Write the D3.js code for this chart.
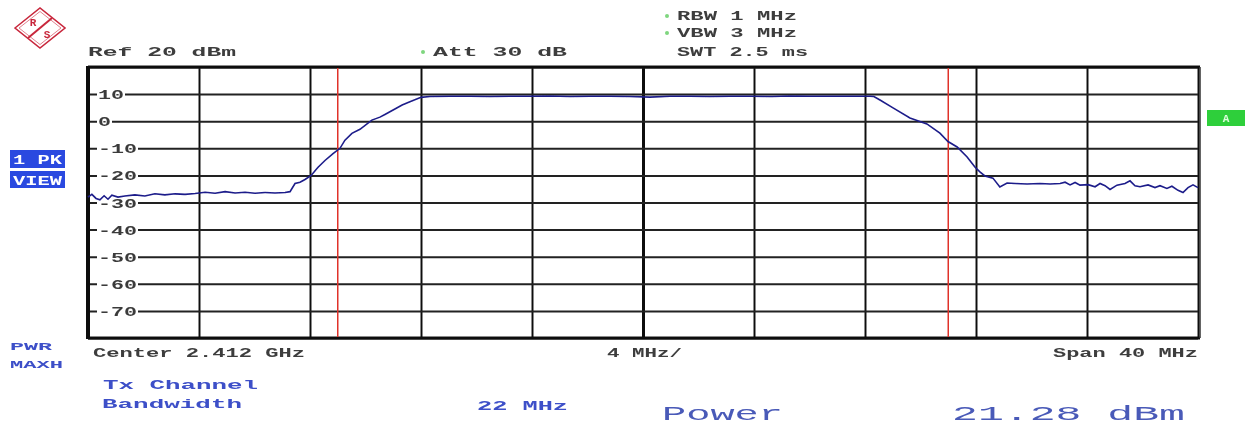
<!DOCTYPE html>
<html><head><meta charset="utf-8">
<script src="https://cdn.jsdelivr.net/npm/d3@7"></script>
<style>
html,body{margin:0;padding:0;background:#fff;}
svg{display:block;}
text{font-family:"Liberation Mono","DejaVu Sans Mono",monospace;font-weight:bold;}
</style></head>
<body>
<script>
// ---- data ----
const freqMHz = [-20.00,-19.86,-19.71,-19.57,-19.42,-19.28,-19.14,-18.92,-18.67,-18.31,-17.95,-17.59,-17.23,-16.86,-16.50,-16.14,-15.78,-15.42,-15.06,-14.70,-14.34,-13.98,-13.62,-13.26,-12.90,-12.72,-12.54,-12.36,-12.18,-11.96,-11.71,-11.46,-11.17,-10.92,-10.74,-10.49,-10.20,-9.77,-9.48,-9.30,-8.94,-8.68,-8.40,-8.00,
  -7.68,-6.95,-6.23,-5.51,-4.79,-4.07,-3.35,-2.63,-1.91,-1.19,-0.47,0.25,0.97,1.69,2.41,3.14,3.86,4.58,5.30,6.02,6.74,7.46,8.18,
  8.32,8.54,9.01,9.62,10.23,10.70,10.99,11.32,11.68,11.96,12.14,12.32,12.61,12.86,13.12,13.41,13.84,14.31,14.67,15.03,15.21,15.39,15.57,15.75,16.04,16.29,16.47,16.65,16.83,17.08,17.37,17.55,17.73,17.91,18.20,18.45,18.63,18.88,19.06,19.28,19.46,19.64,19.82,20.00];
const levelDb = [-28.0,-27.0,-28.5,-29.0,-27.5,-28.8,-27.3,-28.0,-27.6,-27.2,-27.6,-26.8,-27.2,-26.8,-27.0,-26.7,-26.2,-26.6,-26.0,-26.5,-26.2,-26.6,-26.3,-26.5,-26.3,-26.0,-23.0,-22.5,-21.5,-20.0,-17.0,-14.5,-12.0,-10.0,-7.0,-4.5,-3.0,0.4,1.5,2.5,4.5,6.0,7.2,8.8,
  9.1,9.2,9.2,9.1,9.2,9.2,9.3,9.1,9.2,9.2,9.1,8.9,9.2,9.2,9.1,9.2,9.2,9.1,9.3,9.2,9.2,9.2,9.2,
  9.1,7.8,4.9,1.2,-1.0,-4.4,-7.5,-9.5,-13.2,-16.9,-18.7,-20.2,-21.0,-24.3,-22.8,-23.0,-23.2,-23.0,-23.2,-23.0,-22.5,-23.5,-22.6,-23.6,-23.4,-24.2,-23.0,-23.8,-25.2,-23.6,-23.0,-22.0,-23.8,-24.2,-23.5,-24.5,-23.8,-24.8,-24.0,-25.5,-26.3,-24.5,-23.5,-24.5];
const freqTicks = [-20,-16,-12,-8,-4,0,4,8,12,16,20];
const dbTicks = [10,0,-10,-20,-30,-40,-50,-60,-70];
const dbTickLabels = ["10","0","-10","-20","-30","-40","-50","-60","-70"];
const channelBwMHz = 22;
const refLevel = 20, bottomLevel = -80, spanMHz = 40;

const W = 1247, H = 428;
const svg = d3.select("body").append("svg").attr("width", W).attr("height", H);
const defs = svg.append("defs");
defs.append("filter").attr("id","soft").append("feGaussianBlur").attr("stdDeviation",0.45);

const x = d3.scaleLinear().domain([-spanMHz/2, spanMHz/2]).range([88, 1198]);
const y = d3.scaleLinear().domain([bottomLevel, refLevel]).range([338, 67]);

const g = svg.append("g").attr("filter","url(#soft)");

// grid via axes
const vGrid = g.append("g").attr("transform", `translate(0,${y(bottomLevel)})`)
  .call(d3.axisBottom(x).tickValues(freqTicks).tickSize(-(y(bottomLevel)-y(refLevel))).tickFormat(""));
vGrid.select(".domain").remove();
vGrid.selectAll(".tick line").attr("stroke","#111").attr("stroke-width", d => d===0 ? 3 : 2);

const hGrid = g.append("g").attr("transform", `translate(${x(-spanMHz/2)},0)`)
  .call(d3.axisRight(y).tickValues(dbTicks.concat([refLevel, bottomLevel])).tickSize(x(spanMHz/2)-x(-spanMHz/2)).tickFormat(""));
hGrid.select(".domain").remove();
hGrid.selectAll(".tick line").attr("stroke","#222").attr("stroke-width", 2);

// frame
g.append("line").attr("x1",x(-20)).attr("x2",x(-20)).attr("y1",y(20)-1).attr("y2",y(-80)+1).attr("stroke","#111").attr("stroke-width",4);
g.append("line").attr("x1",x(-20)).attr("x2",x(20)+2).attr("y1",y(-80)).attr("y2",y(-80)).attr("stroke","#111").attr("stroke-width",3);
g.append("line").attr("x1",x(-20)).attr("x2",x(20)+2).attr("y1",y(20)).attr("y2",y(20)).attr("stroke","#111").attr("stroke-width",3);
g.append("line").attr("x1",x(20)+2).attr("x2",x(20)+2).attr("y1",y(20)).attr("y2",y(-80)).attr("stroke","#333").attr("stroke-width",1.5);

// y tick labels with white backing
const lab = g.append("g");
dbTicks.forEach((v,i) => {
  const t = dbTickLabels[i];
  const w = t.length*13;
  lab.append("rect").attr("x",97).attr("y",y(v)-6).attr("width",w+2).attr("height",12).attr("fill","#fff");
  lab.append("text").attr("x",98).attr("y",y(v)+5).attr("font-size",13).attr("fill","#3a3a3a")
    .attr("textLength",w).attr("lengthAdjust","spacingAndGlyphs").text(t);
});

// channel markers
[-channelBwMHz/2, channelBwMHz/2].forEach(f => {
  g.append("line").attr("x1",x(f)).attr("x2",x(f)).attr("y1",y(20)+1).attr("y2",y(-80)-1)
   .attr("stroke","#e0302a").attr("stroke-width",1.5);
});

// trace
const pts = freqMHz.map((f,i)=>[f, levelDb[i]]);
g.append("path").datum(pts)
  .attr("d", d3.line().x(d=>x(d[0])).y(d=>y(d[1])))
  .attr("fill","none").attr("stroke","#1c1c8a").attr("stroke-width",1.6);

// text helper
function txt(s, x0, yb, w, size, color, opts={}) {
  const t = g.append("text").attr("x",x0).attr("y",yb).attr("font-size",size).attr("fill",color).text(s);
  if (w) t.attr("textLength",w).attr("lengthAdjust","spacingAndGlyphs");
  if (opts.anchor) t.attr("text-anchor",opts.anchor);
  if (opts.weight) t.style("font-weight",opts.weight);
  return t;
}
const dark = "#3e3e3e";
txt("Ref  20 dBm", 88, 56, 148, 13, dark);
txt("Att  30 dB", 433, 56, 134, 13, dark);
txt("RBW 1 MHz", 677, 20, 120, 13, dark);
txt("VBW 3 MHz", 677, 37, 120, 13, dark);
txt("SWT 2.5 ms", 677, 56, 131, 13, dark);
// green dots
[[423,52],[667,16],[667,33]].forEach(p => g.append("circle").attr("cx",p[0]).attr("cy",p[1]).attr("r",2).attr("fill","#7fd67f"));

txt("Center 2.412 GHz", 93, 357, 212, 13, dark);
txt("4 MHz/", 607, 357, 75, 13, dark);
txt("Span 40 MHz", 1053, 357, 145, 13, dark);

const blue = "#3c4fc8";
txt("PWR", 10, 350, 42, 11, blue);
txt("MAXH", 10, 368, 53, 11, blue);
txt("Tx Channel", 103, 389, 155, 13, blue);
txt("Bandwidth", 102, 408, 140, 13, blue);
txt("22 MHz", 477, 410, 91, 13, blue);
txt("Power", 662, 420, 121, 21, "#4a5ab8", {weight:"normal"});
txt("21.28 dBm", 952, 420, 233, 21, "#4a5ab8", {weight:"normal"});

// 1 PK / VIEW boxes
g.append("rect").attr("x",10).attr("y",150).attr("width",55).attr("height",18).attr("fill","#2a48e0");
g.append("rect").attr("x",10).attr("y",171).attr("width",55).attr("height",17).attr("fill","#2a48e0");
txt("1 PK", 13, 164, 49, 12, "#fff");
txt("VIEW", 13, 185, 49, 12, "#fff");

// green A box
g.append("rect").attr("x",1207).attr("y",110).attr("width",38).attr("height",16).attr("fill","#2fcf3a");
txt("A", 1226, 122, null, 11, "#dfffdf", {anchor:"middle"});

// R&S logo
const logo = g.append("g").attr("transform","translate(40,28)");
logo.append("path").attr("d","M-25,0 L0,-20 L25,0 L0,20 Z").attr("fill","none").attr("stroke","#c8283c").attr("stroke-width",1.6);
logo.append("path").attr("d","M-21,0 L0,-16.5 L21,0 L0,16.5 Z").attr("fill","none").attr("stroke","#d86070").attr("stroke-width",0.8);
logo.append("line").attr("x1",12).attr("y1",-10).attr("x2",-12).attr("y2",10).attr("stroke","#c8283c").attr("stroke-width",2);
logo.append("text").attr("x",-7).attr("y",-2).attr("font-size",11).attr("fill","#c8283c").attr("text-anchor","middle").text("R");
logo.append("text").attr("x",7).attr("y",10).attr("font-size",11).attr("fill","#c8283c").attr("text-anchor","middle").text("S");
</script>
</body></html>
